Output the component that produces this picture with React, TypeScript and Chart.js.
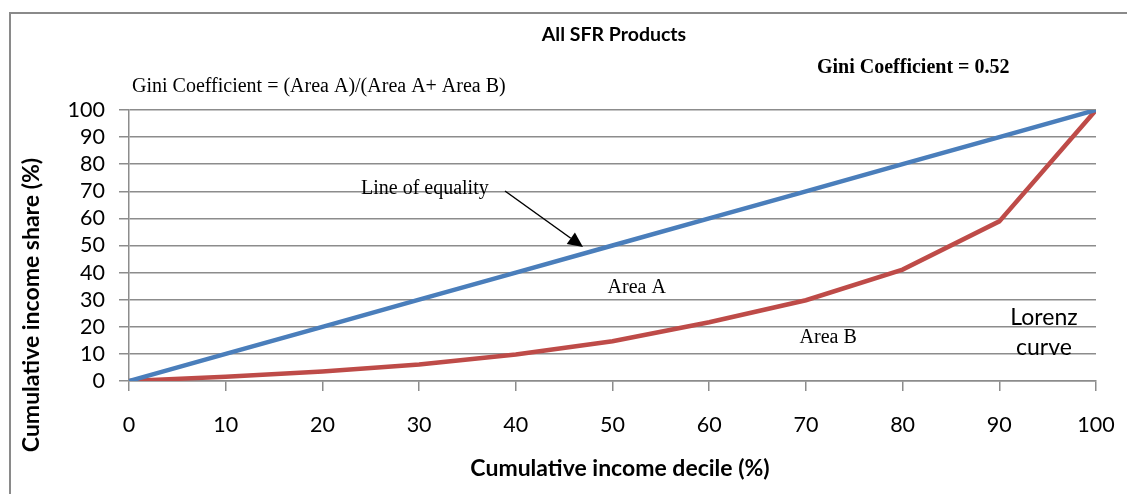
import React, { useEffect, useRef } from "react";
import { Chart, registerables } from "chart.js";

Chart.register(...registerables);

const deciles = [0, 10, 20, 30, 40, 50, 60, 70, 80, 90, 100];
const equalityShare = [0, 10, 20, 30, 40, 50, 60, 70, 80, 90, 100];
const lorenzShare = [0, 1.6, 3.5, 6.1, 9.8, 14.7, 21.7, 29.8, 41.1, 58.9, 100];

const chartTitle = "All SFR Products";
const giniText = "Gini Coefficient = 0.52";
const formulaText = "Gini Coefficient = (Area A)/(Area A+ Area B)";
const xTitle = "Cumulative income decile (%)";
const yTitle = "Cumulative income share (%)";

const SANS = "Lato, 'Open Sans', sans-serif";
const SERIF = "'Liberation Serif', 'DejaVu Serif', serif";
const GRID = "#8c8c8c";

const overlayPlugin = {
  id: "overlay",
  afterDraw(chart: any) {
    const ctx = chart.ctx as CanvasRenderingContext2D;
    const xs = chart.scales.x;
    const ys = chart.scales.y;
    ctx.save();
    // outer frame
    ctx.strokeStyle = "#8a8a8a";
    ctx.lineWidth = 2;
    ctx.beginPath();
    ctx.moveTo(10, 494);
    ctx.lineTo(10, 13);
    ctx.lineTo(1127, 13);
    ctx.stroke();

    ctx.fillStyle = "#000";
    ctx.textBaseline = "middle";
    ctx.textAlign = "center";
    ctx.font = `bold 19.5px ${SANS}`;
    ctx.fillText(chartTitle, 614, 35);

    ctx.font = `bold 20px ${SERIF}`;
    ctx.textAlign = "left";
    ctx.fillText(giniText, 817, 68);

    ctx.font = `20px ${SERIF}`;
    ctx.fillText(formulaText, 132, 87);

    // axis titles
    ctx.font = `bold 23px ${SANS}`;
    ctx.textAlign = "center";
    ctx.fillText(xTitle, 620, 469);
    ctx.save();
    ctx.translate(32, 305);
    ctx.rotate(-Math.PI / 2);
    ctx.fillText(yTitle, 0, 0);
    ctx.restore();

    // annotations
    ctx.font = `20px ${SERIF}`;
    ctx.textAlign = "left";
    ctx.fillText("Line of equality", 361, 189);
    ctx.textAlign = "center";
    ctx.fillText("Area A", xs.getPixelForValue(52.5), ys.getPixelForValue(34.5));
    ctx.fillText("Area B", xs.getPixelForValue(72.3), ys.getPixelForValue(16.1));

    ctx.font = `23px ${SANS}`;
    ctx.fillText("Lorenz", 1044, 318);
    ctx.fillText("curve", 1044, 348);

    // arrow
    const x1 = 505, y1 = 191, x2 = 583, y2 = 247;
    const ang = Math.atan2(y2 - y1, x2 - x1);
    const hl = 15, hw = 7;
    const bx = x2 - hl * Math.cos(ang);
    const by = y2 - hl * Math.sin(ang);
    ctx.strokeStyle = "#000";
    ctx.lineWidth = 1.5;
    ctx.beginPath();
    ctx.moveTo(x1, y1);
    ctx.lineTo(bx, by);
    ctx.stroke();
    ctx.beginPath();
    ctx.moveTo(x2, y2);
    ctx.lineTo(bx + hw * Math.sin(ang), by - hw * Math.cos(ang));
    ctx.lineTo(bx - hw * Math.sin(ang), by + hw * Math.cos(ang));
    ctx.closePath();
    ctx.fill();
    ctx.restore();
  },
};

export default function App() {
  const ref = useRef<HTMLCanvasElement | null>(null);
  useEffect(() => {
    if (!ref.current) return;
    const chart = new Chart(ref.current, {
      type: "line",
      data: {
        datasets: [
          {
            label: "Line of equality",
            data: deciles.map((d, i) => ({ x: d, y: equalityShare[i] })),
            borderColor: "#4a7ebb",
            borderWidth: 4.5,
            pointRadius: 0,
            tension: 0,
          },
          {
            label: "Lorenz curve",
            data: deciles.map((d, i) => ({ x: d, y: lorenzShare[i] })),
            borderColor: "#be4b48",
            borderWidth: 4.5,
            pointRadius: 0,
            tension: 0,
          },
        ],
      },
      options: {
        responsive: false,
        animation: false,
        layout: { padding: { left: 0, top: 110, right: 31, bottom: 0 } },
        plugins: { legend: { display: false }, tooltip: { enabled: false } },
        scales: {
          x: {
            type: "linear",
            min: 0,
            max: 100,
            afterFit: (s: any) => {
              s.height = 113;
              s.paddingLeft = 0;
              s.paddingRight = 0;
              s.paddingTop = 0;
              s.paddingBottom = 0;
            },
            ticks: {
              stepSize: 10,
              autoSkip: false,
              maxRotation: 0,
              color: "#000",
              padding: 21,
              font: { family: SANS, size: 21.5 },
            },
            grid: {
              drawOnChartArea: false,
              drawTicks: true,
              tickLength: 10,
              color: GRID,
              lineWidth: 1.5,
            },
            border: { display: true, color: GRID, width: 1.5 },
          },
          y: {
            min: 0,
            max: 100,
            afterFit: (s: any) => {
              s.width = 129;
              s.paddingLeft = 0;
              s.paddingRight = 0;
              s.paddingTop = 0;
              s.paddingBottom = 0;
            },
            ticks: {
              stepSize: 10,
              autoSkip: false,
              color: "#000",
              padding: 14,
              font: { family: SANS, size: 21.5 },
            },
            grid: {
              drawOnChartArea: true,
              drawTicks: true,
              tickLength: 10,
              color: GRID,
              lineWidth: 1.5,
            },
            border: { display: true, color: GRID, width: 1.5 },
          },
        },
      },
      plugins: [overlayPlugin],
    });
    return () => chart.destroy();
  }, []);
  return (
    <div style={{ position: "absolute", left: 0, top: 0, width: 1127, height: 494, background: "#fff" }}>
      <canvas ref={ref} width={1127} height={494} style={{ display: "block" }} />
    </div>
  );
}
